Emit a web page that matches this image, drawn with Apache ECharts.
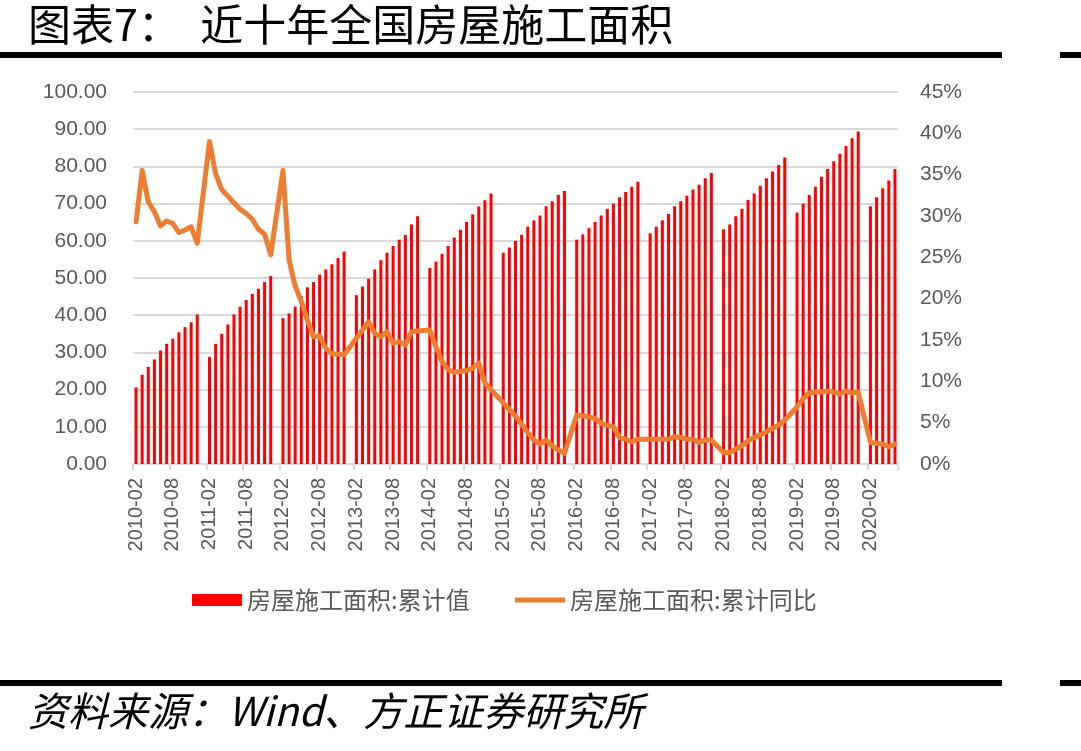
<!DOCTYPE html>
<html>
<head>
<meta charset="utf-8">
<title>近十年全国房屋施工面积</title>
<script src="https://cdn.jsdelivr.net/npm/echarts@6/dist/echarts.min.js"></script>
<style>
  html, body { margin: 0; padding: 0; background: #fff; }
  #chart { width: 1081px; height: 751px; }
</style>
</head>
<body>
<div id="chart"></div>
<script>
// Monthly cumulative data, 2010-02 .. 2020-06 (January merged into Feb, so it is null)
const startYear = 2010;
const endYear = 2020;
const endMonth = 6;

// 房屋施工面积:累计值 (亿平方米)
const area = [
  20.6, 24.0, 26.1, 28.1, 30.5, 32.3, 33.7, 35.4, 36.8, 38.1, 40.2,
  null, 28.8, 32.3, 35.0, 37.5, 40.2, 42.3, 44.1, 45.7, 47.1, 48.9, 50.5,
  null, 39.2, 40.5, 42.3, 45.2, 47.5, 48.9, 50.9, 52.3, 53.7, 55.4, 57.1,
  null, 45.4, 47.7, 49.8, 52.3, 54.8, 56.8, 58.6, 60.3, 61.6, 64.4, 66.6,
  null, 52.7, 54.4, 56.5, 58.6, 60.9, 63.0, 65.1, 67.1, 69.2, 70.9, 72.7,
  null, 56.8, 58.2, 60.0, 61.6, 63.8, 65.5, 66.8, 69.3, 70.6, 72.4, 73.4,
  null, 60.3, 61.7, 63.4, 65.1, 66.8, 68.6, 70.0, 71.7, 73.1, 74.5, 75.9,
  null, 62.0, 63.8, 65.5, 67.2, 69.3, 70.6, 72.1, 73.8, 75.1, 76.8, 78.2,
  null, 63.1, 64.4, 66.6, 68.6, 71.0, 72.7, 74.8, 76.8, 78.6, 80.4, 82.4,
  null, 67.6, 70.0, 72.3, 74.5, 77.2, 79.3, 81.4, 83.4, 85.5, 87.6, 89.4,
  null, 69.3, 71.7, 74.1, 76.2, 79.3
];

// 房屋施工面积:累计同比 (%)
const yoy = [
  29.3, 35.5, 31.7, 30.5, 28.8, 29.4, 29.1, 28.0, 28.3, 28.7, 26.7,
  null, 39.0, 35.1, 33.2, 32.4, 31.6, 30.8, 30.3, 29.6, 28.4, 27.8, 25.3,
  null, 35.5, 24.7, 21.5, 19.7, 17.4, 15.4, 15.5, 14.0, 13.3, 13.3, 13.2,
  null, 15.2, 16.2, 17.2, 15.8, 15.4, 16.0, 14.6, 14.8, 14.4, 16.0, 16.1,
  null, 16.2, 14.2, 12.4, 11.4, 11.1, 11.2, 11.3, 11.6, 12.2, 9.8, 9.0,
  null, 7.4, 6.6, 5.8, 4.8, 3.8, 2.9, 2.4, 2.9, 2.2, 1.7, 1.3,
  null, 5.9, 5.8, 5.7, 5.5, 4.9, 4.7, 4.5, 3.2, 3.0, 2.7, 3.0,
  null, 3.0, 3.0, 3.0, 3.0, 3.3, 3.2, 3.0, 3.0, 2.6, 2.9, 2.9,
  null, 1.4, 1.4, 1.8, 2.2, 2.8, 3.2, 3.5, 3.9, 4.3, 4.7, 5.3,
  null, 6.9, 7.9, 8.6, 8.7, 8.7, 8.8, 8.7, 8.5, 8.8, 8.6, 8.7,
  null, 2.6, 2.5, 2.4, 2.1, 2.4
];

// category labels yyyy-mm
const categories = [];
for (let y = startYear; y <= endYear; y++) {
  for (let m = 1; m <= 12; m++) {
    if (y === startYear && m === 1) continue;
    if (y === endYear && m > endMonth) break;
    categories.push(y + '-' + String(m).padStart(2, '0'));
  }
}

const barName = '房屋施工面积:累计值';
const lineName = '房屋施工面积:累计同比';
const axisColor = '#595959';
const gridColor = '#d9d9d9';
const legendText = { fontSize: 24, color: axisColor, fontFamily: 'Noto Sans CJK SC' };

const chart = echarts.init(document.getElementById('chart'));
chart.setOption({
  animation: false,
  textStyle: { fontFamily: 'Liberation Sans, Noto Sans CJK SC, sans-serif' },
  graphic: [
    { type: 'text', left: 28, top: 3,
      style: { text: '图表7：  近十年全国房屋施工面积', fontSize: 43, fontFamily: 'Noto Sans CJK SC', fill: '#000' } },
    { type: 'rect', left: 0, top: 52, shape: { width: 1002, height: 6 }, style: { fill: '#000' } },
    { type: 'rect', left: 1060, top: 52, shape: { width: 21, height: 6 }, style: { fill: '#000' } },
    { type: 'rect', left: 0, top: 680, shape: { width: 1002, height: 6 }, style: { fill: '#000' } },
    { type: 'rect', left: 1060, top: 680, shape: { width: 21, height: 6 }, style: { fill: '#000' } },
    { type: 'text', left: 28, top: 691,
      style: { text: '资料来源：Wind、方正证券研究所', fontSize: 40, fontStyle: 'italic', fontFamily: 'Noto Sans CJK SC', fill: '#000' } }
  ],
  grid: { left: 133, right: 183, top: 92, bottom: 287 },
  legend: [
    {
      top: 583, left: 187,
      itemWidth: 50, itemHeight: 12,
      textStyle: legendText,
      data: [{ name: barName, icon: 'rect' }]
    },
    {
      top: 583, left: 510,
      itemWidth: 50, itemHeight: 5,
      textStyle: legendText,
      data: [{ name: lineName, icon: 'rect' }]
    }
  ],
  xAxis: {
    type: 'category',
    data: categories,
    boundaryGap: true,
    axisLine: { lineStyle: { color: gridColor, width: 2 } },
    axisTick: { show: true, interval: 5, length: 6, lineStyle: { color: gridColor, width: 2 } },
    axisLabel: { interval: 5, rotate: 90, fontSize: 20, color: axisColor, margin: 14 }
  },
  yAxis: [
    {
      type: 'value', min: 0, max: 100, interval: 10,
      axisLine: { show: false }, axisTick: { show: false },
      splitLine: { lineStyle: { color: gridColor, width: 2 } },
      axisLabel: { fontSize: 21, color: axisColor, margin: 26, formatter: v => v.toFixed(2) }
    },
    {
      type: 'value', min: 0, max: 45, interval: 5,
      axisLine: { show: false }, axisTick: { show: false },
      splitLine: { show: false },
      axisLabel: { fontSize: 21, color: axisColor, margin: 22, formatter: v => v + '%' }
    }
  ],
  series: [
    {
      name: barName,
      type: 'bar',
      data: area,
      barWidth: 3,
      itemStyle: { color: '#ff0000' }
    },
    {
      name: lineName,
      type: 'line',
      yAxisIndex: 1,
      data: yoy,
      connectNulls: true,
      symbol: 'none',
      lineStyle: { color: '#ed7d31', width: 5, join: 'round', cap: 'round' },
      itemStyle: { color: '#ed7d31' }
    }
  ]
});

window.addEventListener('resize', () => {
  chart.resize();
});
</script>
</body>
</html>
